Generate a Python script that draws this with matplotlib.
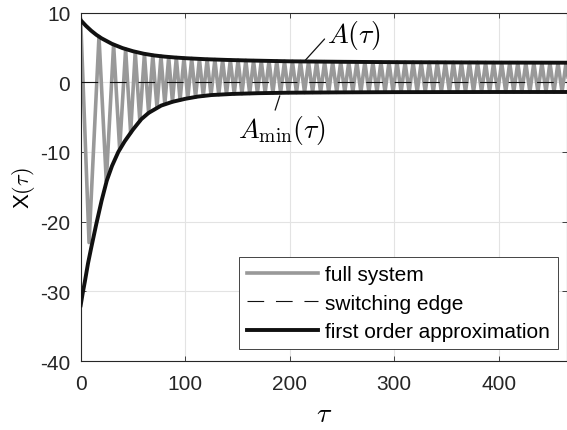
import numpy as np
import matplotlib
matplotlib.use('Agg')
import matplotlib.pyplot as plt

plt.rcParams['font.family'] = ['Liberation Sans', 'DejaVu Sans']
plt.rcParams['mathtext.fontset'] = 'cm'
plt.rcParams['axes.unicode_minus'] = False
plt.rc('lines', scale_dashes=False)

# --- data ---
# extremes of the full (switching) system: peaks and troughs
peak_tau = [0, 17.5, 31.5, 43.0, 52.2, 61.0, 69.0, 76.8, 84.2, 91.5, 98.8,
            106.2, 113.6, 121.0, 128.4, 135.8, 143.2, 150.6, 158.0, 165.4, 172.8,
            180.2, 187.6, 195.0, 202.6, 210.3, 218.0, 225.7, 233.4, 241.1, 248.8,
            256.5, 264.2, 271.9, 279.6, 287.3, 295.0, 302.7, 310.4, 318.1, 325.8,
            333.5, 341.2, 348.9, 356.6, 364.3, 372.0, 379.7, 387.4, 395.1, 402.8,
            410.5, 418.2, 425.9, 433.6, 441.3, 449.0, 456.7, 464.4, 472.1]
peak_x = [9.0, 6.55, 5.4, 4.75, 4.37, 4.07, 3.87, 3.73, 3.62, 3.54, 3.46,
          3.41, 3.35, 3.29, 3.26, 3.22, 3.19, 3.16, 3.13, 3.10, 3.08,
          3.06, 3.04, 3.01, 3.0, 2.98, 2.97, 2.96, 2.95, 2.94, 2.93,
          2.92, 2.92, 2.91, 2.9, 2.89, 2.88, 2.88, 2.87, 2.87, 2.86,
          2.86, 2.86, 2.85, 2.85, 2.84, 2.84, 2.84, 2.83, 2.83, 2.82,
          2.82, 2.82, 2.81, 2.81, 2.81, 2.81, 2.8, 2.8, 2.8]
trough_tau = [8.0, 24.5, 37.3, 47.8, 56.6, 65.0, 73.0, 80.5, 87.8, 95.1,
              102.5, 109.9, 117.3, 124.7, 132.1, 139.5, 146.9, 154.3, 161.7, 169.1,
              176.5, 183.9, 191.3, 198.8, 206.5, 214.2, 221.9, 229.6, 237.3, 245.0,
              252.7, 260.4, 268.1, 275.8, 283.5, 291.2, 298.9, 306.6, 314.3, 322.0,
              329.7, 337.4, 345.1, 352.8, 360.5, 368.2, 375.9, 383.6, 391.3, 399.0,
              406.7, 414.4, 422.1, 429.8, 437.5, 445.2, 452.9, 460.6, 468.3]
trough_x = [-23.0, -14.2, -9.6, -7.25, -5.55, -4.4, -3.65, -3.15, -2.8, -2.55,
            -2.28, -2.12, -1.99, -1.87, -1.79, -1.73, -1.67, -1.64, -1.61, -1.58,
            -1.56, -1.54, -1.52, -1.5, -1.49, -1.48, -1.47, -1.47, -1.46, -1.46,
            -1.45, -1.45, -1.44, -1.44, -1.43, -1.43, -1.43, -1.42, -1.42, -1.42,
            -1.42, -1.41, -1.41, -1.41, -1.41, -1.41, -1.4, -1.4, -1.4, -1.4,
            -1.4, -1.4, -1.4, -1.4, -1.4, -1.4, -1.4, -1.4, -1.4]

# first order approximation: upper envelope A(tau) and lower envelope A_min(tau)
upper_tau = [0, 5, 10, 15, 20, 30, 40, 50, 60, 70, 80, 90, 100, 120, 140,
             160, 180, 200, 250, 300, 350, 400, 470]
upper_A = [8.9, 8.1, 7.4, 6.8, 6.3, 5.5, 4.9, 4.45, 4.1, 3.85, 3.68, 3.55, 3.45,
           3.3, 3.2, 3.12, 3.06, 3.0, 2.93, 2.88, 2.85, 2.82, 2.8]
lower_tau = [0, 2, 4, 7, 10, 15, 20, 25, 30, 36, 42, 50, 58, 65, 77, 88, 100,
             112, 125, 145, 170, 200, 250, 300, 400, 470]
lower_A = [-32.0, -30.2, -28.6, -26.0, -23.8, -20.3, -17.0, -14.1, -12.0, -10.0,
           -8.5, -6.8, -5.3, -4.4, -3.35, -2.8, -2.38, -2.06, -1.84, -1.68, -1.57,
           -1.5, -1.45, -1.42, -1.4, -1.4]

switching_edge = 0.0

xticks = [0, 100, 200, 300, 400]
yticks = [-40, -30, -20, -10, 0, 10]

# combine extremes into one signal
full_tau = np.array(peak_tau + trough_tau)
full_x = np.array(peak_x + trough_x)
order = np.argsort(full_tau)
full_tau, full_x = full_tau[order], full_x[order]

grey = '#999999'
black = '#111111'
axcol = '#262626'

fig = plt.figure(figsize=(5.67, 4.31), dpi=100)
ax = fig.add_axes([0.1423, 0.160, 0.8571, 0.8086])

ax.plot(full_tau, full_x, color=grey, lw=2.6, label='full system', zorder=2)
ax.axhline(switching_edge, color=black, lw=0.8, ls=(0, (12, 8.5)),
           label='switching edge', zorder=3)
ax.plot(upper_tau, upper_A, color=black, lw=2.8,
        label='first order approximation', zorder=4)
ax.plot(lower_tau, lower_A, color=black, lw=2.8, zorder=4)

ax.set_xlim(0, 465)
ax.set_ylim(-40, 10)
ax.set_xticks(xticks)
ax.set_yticks(yticks)
ax.grid(True, color='#e3e3e3', lw=0.8)
ax.set_axisbelow(True)
for s in ax.spines.values():
    s.set_color(axcol)
    s.set_linewidth(0.8)
ax.tick_params(axis='both', direction='in', length=3.5, width=0.6,
               colors=axcol, labelsize=15, top=True, right=True)
ax.tick_params(axis='x', pad=9)
ax.tick_params(axis='y', pad=7.5)

ax.set_xlabel(r'$\tau$', fontsize=20, labelpad=6)
ax.set_ylabel(r'X$(\tau)$', fontsize=16, labelpad=2)

ax.annotate(r'$A(\tau)$', xy=(214, 3.0), xytext=(236, 5.8), fontsize=20,
            ha='left', va='baseline',
            arrowprops=dict(arrowstyle='-', color=black, lw=0.9,
                            relpos=(0, 0.45), shrinkA=0, shrinkB=0))
ax.annotate(r'$A_{\min}(\tau)$', xy=(190.5, -1.95), xytext=(192.8, -4.4),
            fontsize=20, ha='center', va='top',
            arrowprops=dict(arrowstyle='-', color=black, lw=0.9,
                            relpos=(0.41, 1.0), shrinkA=0, shrinkB=0))

leg = ax.legend(loc='lower right', bbox_to_anchor=(0.9827, 0.0336),
                borderaxespad=0, fontsize=15, frameon=True, fancybox=False,
                framealpha=1, edgecolor=axcol, handlelength=3.4,
                handletextpad=0.35, borderpad=0.4, labelspacing=0.45)
leg.get_frame().set_linewidth(0.6)

fig.savefig('out.png', dpi=100)
